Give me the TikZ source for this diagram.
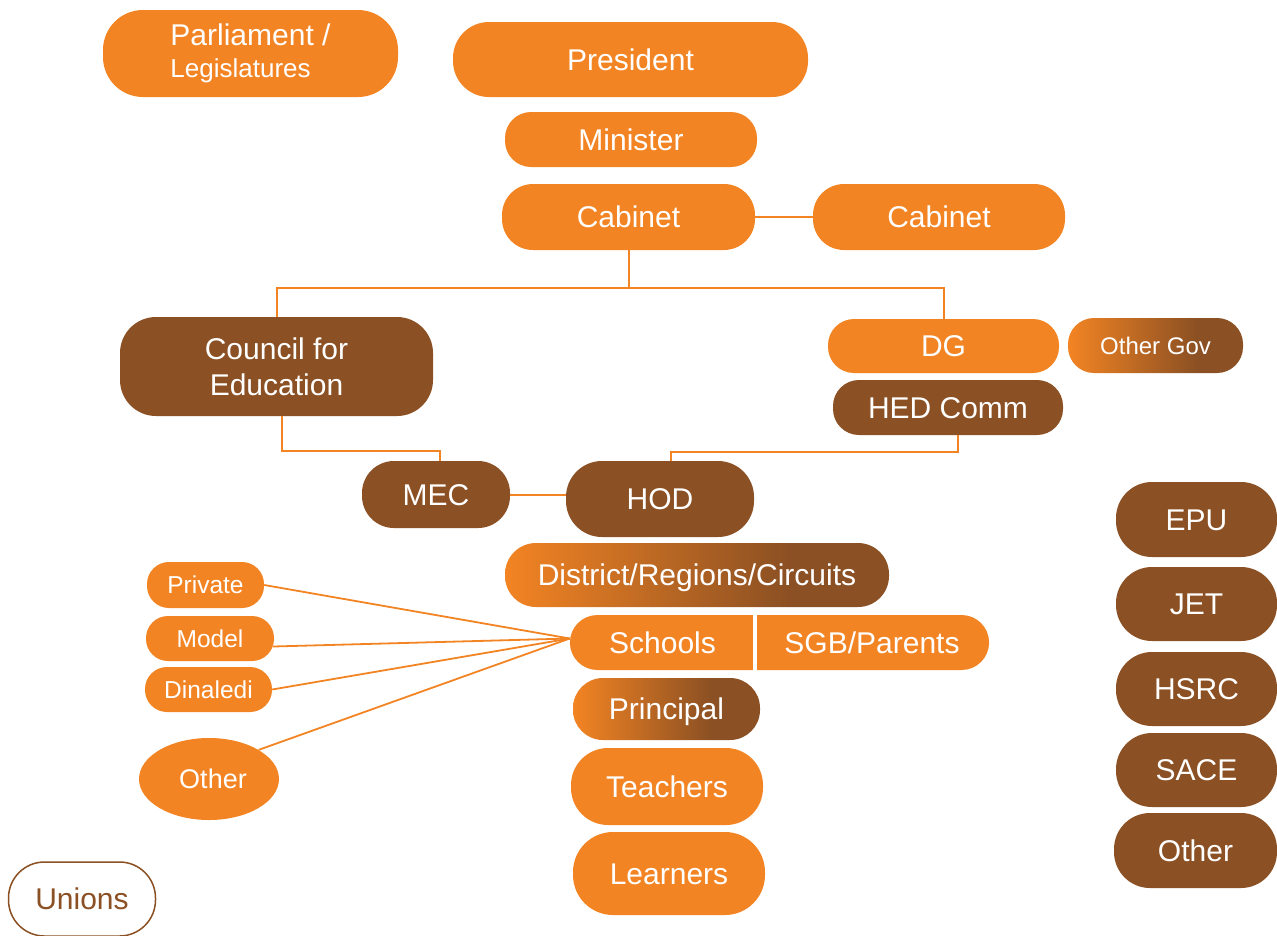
\documentclass[tikz,border=0pt]{standalone}
\usepackage{fontspec}
\setmainfont{Liberation Sans}
\usetikzlibrary{shapes.geometric,shapes.misc}
\definecolor{org}{RGB}{243,132,35}
\definecolor{brn}{RGB}{139,80,35}
\pgfdeclarehorizontalshading{obshade}{100bp}{color(0bp)=(org); color(25bp)=(org); color(62bp)=(brn); color(100bp)=(brn)}
\tikzset{
  base/.style={inner sep=0pt, text=white, font=\fontsize{30}{36}\selectfont, text height=21.5pt, text depth=0pt},
  obox/.style={base, fill=org},
  bbox/.style={base, fill=brn},
  gbox/.style={base, shade, shading=obshade},
  small/.style={font=\fontsize{24.5}{28}\selectfont, text height=17.5pt},
  multi/.style={text height={}, text depth={}},
  link/.style={draw=org, line width=2pt},
}
\begin{document}
\begin{tikzpicture}[x=1pt,y=-1pt]
\useasboundingbox (0,0) rectangle (1277,935);

% top
\node[obox, multi, align=left, minimum width=295pt, minimum height=87pt, rounded corners=40pt] (parl) at (250.5,53.5)
  {Parliament /\\[-4pt]\fontsize{26}{28}\selectfont Legislatures};
\node[obox, minimum width=355pt, minimum height=75pt, rounded corners=36pt] (pres) at (630.5,59.5) {President};
\node[obox, minimum width=252pt, minimum height=55pt, rounded corners=26pt] (min) at (631,139.5) {Minister};
\node[obox, minimum width=253pt, minimum height=66pt, rounded corners=31pt] (cab1) at (628.5,217) {Cabinet};
\node[obox, minimum width=252pt, minimum height=66pt, rounded corners=31pt] (cab2) at (939,217) {Cabinet};

% middle
\node[bbox, multi, align=center, minimum width=313pt, minimum height=99pt, rounded corners=36pt] (council) at (276.5,366.5) {Council for\\Education};
\node[obox, minimum width=231pt, minimum height=54pt, rounded corners=26pt] (dg) at (943.5,346) {DG};
\node[gbox, font=\fontsize{24}{26}\selectfont, text height=17pt, minimum width=175pt, minimum height=55pt, rounded corners=26pt] (othgov) at (1155.5,345.5) {Other Gov};
\node[bbox, minimum width=230pt, minimum height=55pt, rounded corners=26pt] (hed) at (948,407.5) {HED Comm};
\node[bbox, minimum width=148pt, minimum height=67pt, rounded corners=32pt] (mec) at (436,494.5) {MEC};
\node[bbox, minimum width=188pt, minimum height=76pt, rounded corners=36pt] (hod) at (660,499) {HOD};

% lower column
\node[gbox, minimum width=384pt, minimum height=64pt, rounded corners=31pt] (dist) at (697,575) {District/Regions/Circuits};
\node[obox, rounded rectangle, rounded rectangle right arc=none, minimum width=183pt, minimum height=55pt] (schools) at (662.5,642.5) {Schools};
\node[obox, rounded rectangle, rounded rectangle left arc=none, minimum width=232pt, minimum height=55pt] (sgb) at (872,642.5) {SGB/Parents};
\node[gbox, minimum width=187pt, minimum height=62pt, rounded corners=30pt] (prin) at (666.5,709) {Principal};
\node[obox, minimum width=192pt, minimum height=77pt, rounded corners=37pt] (teach) at (667,786.5) {Teachers};
\node[obox, minimum width=192pt, minimum height=83pt, rounded corners=40pt] (learn) at (669,873.5) {Learners};

% school types
\node[obox, small, minimum width=117pt, minimum height=46pt, rounded corners=22pt] (priv) at (205.5,585) {Private};
\node[obox, small, minimum width=128pt, minimum height=45pt, rounded corners=22pt] (model) at (210,638.5) {Model};
\node[obox, small, minimum width=127pt, minimum height=45pt, rounded corners=22pt] (dinal) at (208.5,689.5) {Dinaledi};
\node[obox, ellipse, font=\fontsize{27}{30}\selectfont, text height=19.3pt, minimum width=140pt, minimum height=82pt] (oth1) at (209,779) {\hspace*{8pt}Other};

% right column
\node[bbox, minimum width=161pt, minimum height=75pt, rounded corners=36pt] (epu) at (1196.5,519.5) {EPU};
\node[bbox, minimum width=161pt, minimum height=74pt, rounded corners=36pt] (jet) at (1196.5,604) {JET};
\node[bbox, minimum width=161pt, minimum height=74pt, rounded corners=36pt] (hsrc) at (1196.5,689) {HSRC};
\node[bbox, minimum width=161pt, minimum height=74pt, rounded corners=36pt] (sace) at (1196.5,770) {SACE};
\node[bbox, minimum width=163pt, minimum height=75pt, rounded corners=36pt] (oth2) at (1195.5,850.5) {Other};

% unions
\node[base, fill=white, draw=brn, line width=1.5pt, text=brn, minimum width=147pt, minimum height=74pt, rounded corners=36pt] (unions) at (82,899) {Unions};

% connectors
\coordinate (bus) at (628.5,288);
\coordinate (cmbend) at (440,451);
\coordinate (hhbend) at (958,452);
\draw[link] (cab1.east) -- (cab2.west);
\draw[link] (cab1.south) -- (bus);
\draw[link] (council.north) |- (bus) -| (dg.north);
\draw[link] ([xshift=5.5pt]council.south) |- (cmbend) -- ([xshift=4pt]mec.north);
\draw[link] (mec.east) -- (mec.east -| hod.west);
\draw[link] ([xshift=11pt]hod.north) |- (hhbend) -- ([xshift=10pt]hed.south);
\draw[link, line width=1.8pt] ([yshift=4pt]schools.west) -- (priv.east);
\draw[link, line width=1.8pt] ([yshift=4pt]schools.west) -- ([xshift=-1pt,yshift=-8pt]model.east);
\draw[link, line width=1.8pt] ([yshift=4pt]schools.west) -- (dinal.east);
\draw[link, line width=1.8pt] ([yshift=4pt]schools.west) -- (oth1.north east);
\end{tikzpicture}
\end{document}
